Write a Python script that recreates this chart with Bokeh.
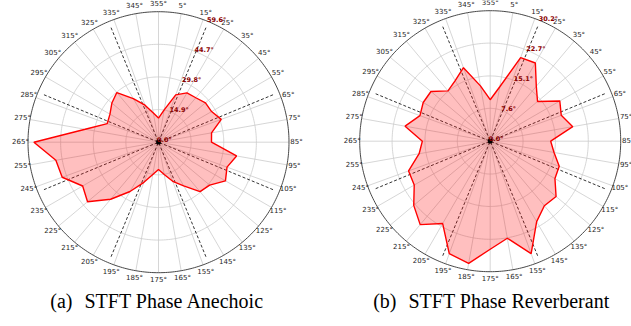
import numpy as np
from bokeh.plotting import figure
from bokeh.models import Range1d
from bokeh.embed import file_html
from bokeh.resources import INLINE
from bokeh.core.properties import value

# ---------------- data ----------------
theta_deg = list(range(0, 360, 10))
theta_tick_labels = ["355°", "5°", "15°", "25°", "35°", "45°", "55°", "65°", "75°",
                     "85°", "95°", "105°", "115°", "125°", "135°", "145°", "155°",
                     "165°", "175°", "185°", "195°", "205°", "215°", "225°", "235°",
                     "245°", "255°", "265°", "275°", "285°", "295°", "305°", "315°",
                     "325°", "335°", "345°"]
anechoic = [11.0, 15.0, 23.0, 26.0, 26.5, 28.0, 28.0, 30.5, 24.6, 24.2, 36.2, 33.3,
            35.3, 30.5, 29.5, 23.0, 19.0, 15.0, 12.5, 15.0, 19.5, 26.0, 34.0, 42.3,
            40.0, 46.8, 47.6, 56.9, 34.0, 24.9, 25.6, 27.8, 29.6, 23.0, 18.0, 13.5]
reverberant = [9.6, 12.8, 20.6, 20.9, 16.6, 14.3, 18.6, 17.5, 19.4, 14.0, 15.0, 17.0,
               17.3, 19.9, 19.5, 21.5, 27.7, 22.8, 25.0, 28.7, 27.7, 22.0, 25.2, 23.1,
               20.3, 20.1, 16.7, 15.7, 20.0, 17.3, 17.9, 17.9, 15.2, 16.2, 18.1, 13.0]
r_ticks_anechoic = [0.0, 14.9, 29.8, 44.7, 59.6]
r_ticks_reverberant = [0.0, 7.6, 15.1, 22.7, 30.2]
dashed_deg = [22.5, 67.5, 112.5, 157.5]
caption_tags = ["(a)", "(b)"]
caption_texts = ["STFT Phase Anechoic", "STFT Phase Reverberant"]

# ---------------- layout ----------------
W, H = 631, 318
panels = [
    dict(vals=anechoic, rticks=r_ticks_anechoic, cx=158.0, cy=141.7, R=130.5,
         tag=caption_tags[0], cap=caption_texts[0], split=72.0),
    dict(vals=reverberant, rticks=r_ticks_reverberant, cx=489.7, cy=140.7, R=130.5,
         tag=caption_tags[1], cap=caption_texts[1], split=396.0),
]
CAP_Y = 300
CAP_GAP = 12
GRID = "#cccccc"

p = figure(width=W, height=H, x_range=Range1d(0, W), y_range=Range1d(H, 0),
           output_backend="svg", toolbar_location=None, min_border=0,
           margin=(0, 0, 0, 0))
p.axis.visible = False
p.grid.visible = False
p.outline_line_color = None
p.background_fill_color = "white"


def to_xy(cx, cy, R, rn, deg):
    t = np.deg2rad(np.asarray(deg, dtype=float))
    rn = np.asarray(rn, dtype=float)
    return cx + R * rn * np.sin(t), cy - R * rn * np.cos(t)


for pn in panels:
    cx, cy, R = pn["cx"], pn["cy"], pn["R"]
    rmax = pn["rticks"][-1]

    # spokes every 10 deg
    xs, ys = [], []
    for d in theta_deg:
        x, y = to_xy(cx, cy, R, [0, 1], [d, d])
        xs.append(list(x)); ys.append(list(y))
    p.multi_line(xs, ys, line_color=GRID, line_width=0.8)

    # radial circles
    circ = np.linspace(0, 360, 361)
    xs, ys = [], []
    for rv in pn["rticks"][1:-1]:
        x, y = to_xy(cx, cy, R, np.full_like(circ, rv / rmax), circ)
        xs.append(list(x)); ys.append(list(y))
    p.multi_line(xs, ys, line_color=GRID, line_width=0.8)
    x, y = to_xy(cx, cy, R, np.ones_like(circ), circ)
    p.line(x, y, line_color="#333333", line_width=0.9)

    # dashed diameters
    xs, ys = [], []
    for d in dashed_deg:
        x, y = to_xy(cx, cy, R, [0.95, 0.95], [d, d + 180])
        xs.append(list(x)); ys.append(list(y))
    p.multi_line(xs, ys, line_color="black", line_width=0.8, line_dash="3 2")

    # data polygon
    vals = pn["vals"] + pn["vals"][:1]
    angs = theta_deg + theta_deg[:1]
    x, y = to_xy(cx, cy, R, np.array(vals) / rmax, angs)
    p.patch(x, y, fill_color="red", fill_alpha=0.25, line_color="red", line_width=1.4)

    p.scatter([cx], [cy], marker="square", size=3.5, color="black")

    # theta tick labels
    x, y = to_xy(cx, cy, R, np.full(len(theta_deg), (R + 7.5) / R), theta_deg)
    p.text(x, y, text=theta_tick_labels, text_align="center", text_baseline="middle",
           text_font=value("DejaVu Sans"), text_font_size="7px", text_color="#262626")

    # radial labels
    rt = pn["rticks"]
    x, y = to_xy(cx, cy, R, np.array(rt) / rmax, [22.5] * len(rt))
    p.text(x, y, text=[f"{v:.1f}°" for v in rt], text_align="left", text_baseline="middle",
           x_offset=-1.5, y_offset=-2,
           text_font=value("DejaVu Sans"), text_font_size="6.5px", text_font_style="bold",
           text_color="#8b0000")

    # caption
    p.text([pn["split"]], [CAP_Y], text=[pn["tag"]], text_align="right", text_baseline="middle",
           text_font=value("Liberation Serif"), text_font_size="20px", text_color="black")
    p.text([pn["split"] + CAP_GAP], [CAP_Y], text=[pn["cap"]], text_align="left",
           text_baseline="middle", text_font=value("Liberation Serif"),
           text_font_size="20px", text_color="black")

open("out.html", "w").write(file_html(p, INLINE))
